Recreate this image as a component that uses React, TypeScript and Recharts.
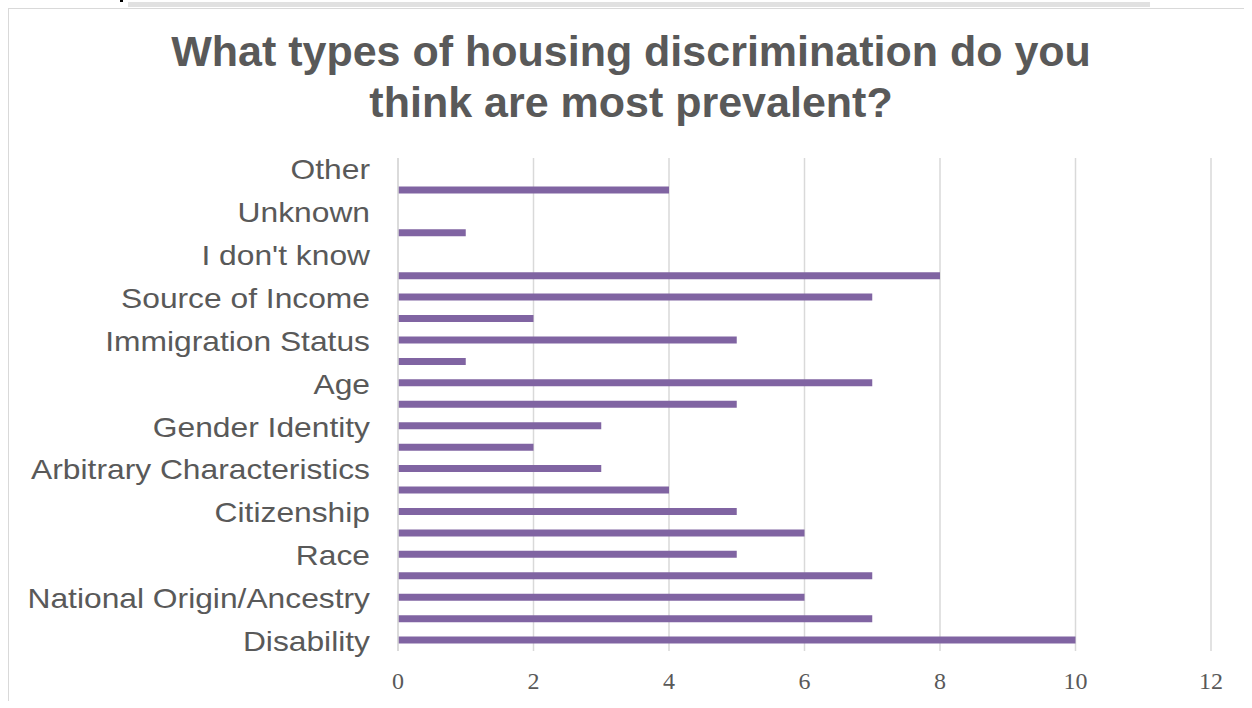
import { BarChart, Bar, XAxis, YAxis, CartesianGrid } from 'recharts';

// Excel order: first item sits at the bottom of the chart
const categories = [
  'Disability',
  'Familial Status',
  'National Origin/Ancestry',
  'Color',
  'Race',
  'Religion',
  'Citizenship',
  'Sex',
  'Arbitrary Characteristics',
  'Marital Status',
  'Gender Identity',
  'Sexual Orientation',
  'Age',
  'Military Status',
  'Immigration Status',
  'Genetic Information',
  'Source of Income',
  'Criminal History',
  "I don't know",
  'Language',
  'Unknown',
  'Domestic Violence',
  'Other',
];

const responses = [10, 7, 6, 7, 5, 6, 5, 4, 3, 2, 3, 5, 7, 1, 5, 2, 7, 8, 0, 1, 0, 4, 0];

const xTicks = [0, 2, 4, 6, 8, 10, 12];

const data = categories.map((name, i) => ({ name, value: responses[i] }));

const textColor = '#595959';
const gridColor = '#d9d9d9';

// category labels in the source are rendered a bit wider than plain Arial
function CategoryTick({ x, y, payload }: any) {
  return (
    <g transform={`translate(${x},${y}) scale(1.135,1)`}>
      <text
        textAnchor="end"
        dy="0.38em"
        fill={textColor}
        fontSize={28}
        fontFamily="'Liberation Sans', Arial, sans-serif"
      >
        {payload.value}
      </text>
    </g>
  );
}

export default function App() {
  return (
    <div
      style={{
        position: 'relative',
        width: 1244,
        height: 692,
        borderTop: `1px solid ${gridColor}`,
        borderLeft: `1px solid ${gridColor}`,
        background: '#fff',
      }}
    >
      <div style={{ position: 'fixed', top: 2, left: 128, width: 1022, height: 5, background: '#e1e1e1' }} />
      <div style={{ position: 'fixed', top: 0, left: 120, width: 3, height: 2, background: '#000' }} />
      <div
        style={{
          position: 'absolute',
          top: 17,
          left: 0,
          width: 1244,
          textAlign: 'center',
          fontFamily: "'Liberation Sans', Arial, sans-serif",
          fontWeight: 700,
          fontSize: 43,
          lineHeight: '51px',
          color: textColor,
        }}
      >
        What types of housing discrimination do you
        <br />
        think are most prevalent?
      </div>
      <BarChart
        width={1243}
        height={691}
        data={data}
        layout="vertical"
        margin={{ top: 149, right: 41, bottom: 0, left: 0 }}
      >
        <CartesianGrid vertical horizontal={false} stroke={gridColor} strokeWidth={1.5} />
        <XAxis
          type="number"
          domain={[0, 12]}
          ticks={xTicks}
          axisLine={false}
          tickLine={false}
          tickSize={0}
          tickMargin={21}
          height={49}
          tick={{ fill: textColor, fontSize: 24, fontFamily: "'Liberation Serif', 'DejaVu Serif', serif" }}
        />
        <YAxis
          type="category"
          dataKey="name"
          reversed
          interval={1}
          width={389}
          axisLine={{ stroke: gridColor, strokeWidth: 1.5 }}
          tickLine={false}
          tickSize={0}
          tickMargin={28}
          tick={<CategoryTick />}
        />
        <Bar dataKey="value" fill="#8064A2" barSize={7} isAnimationActive={false} />
      </BarChart>
    </div>
  );
}
